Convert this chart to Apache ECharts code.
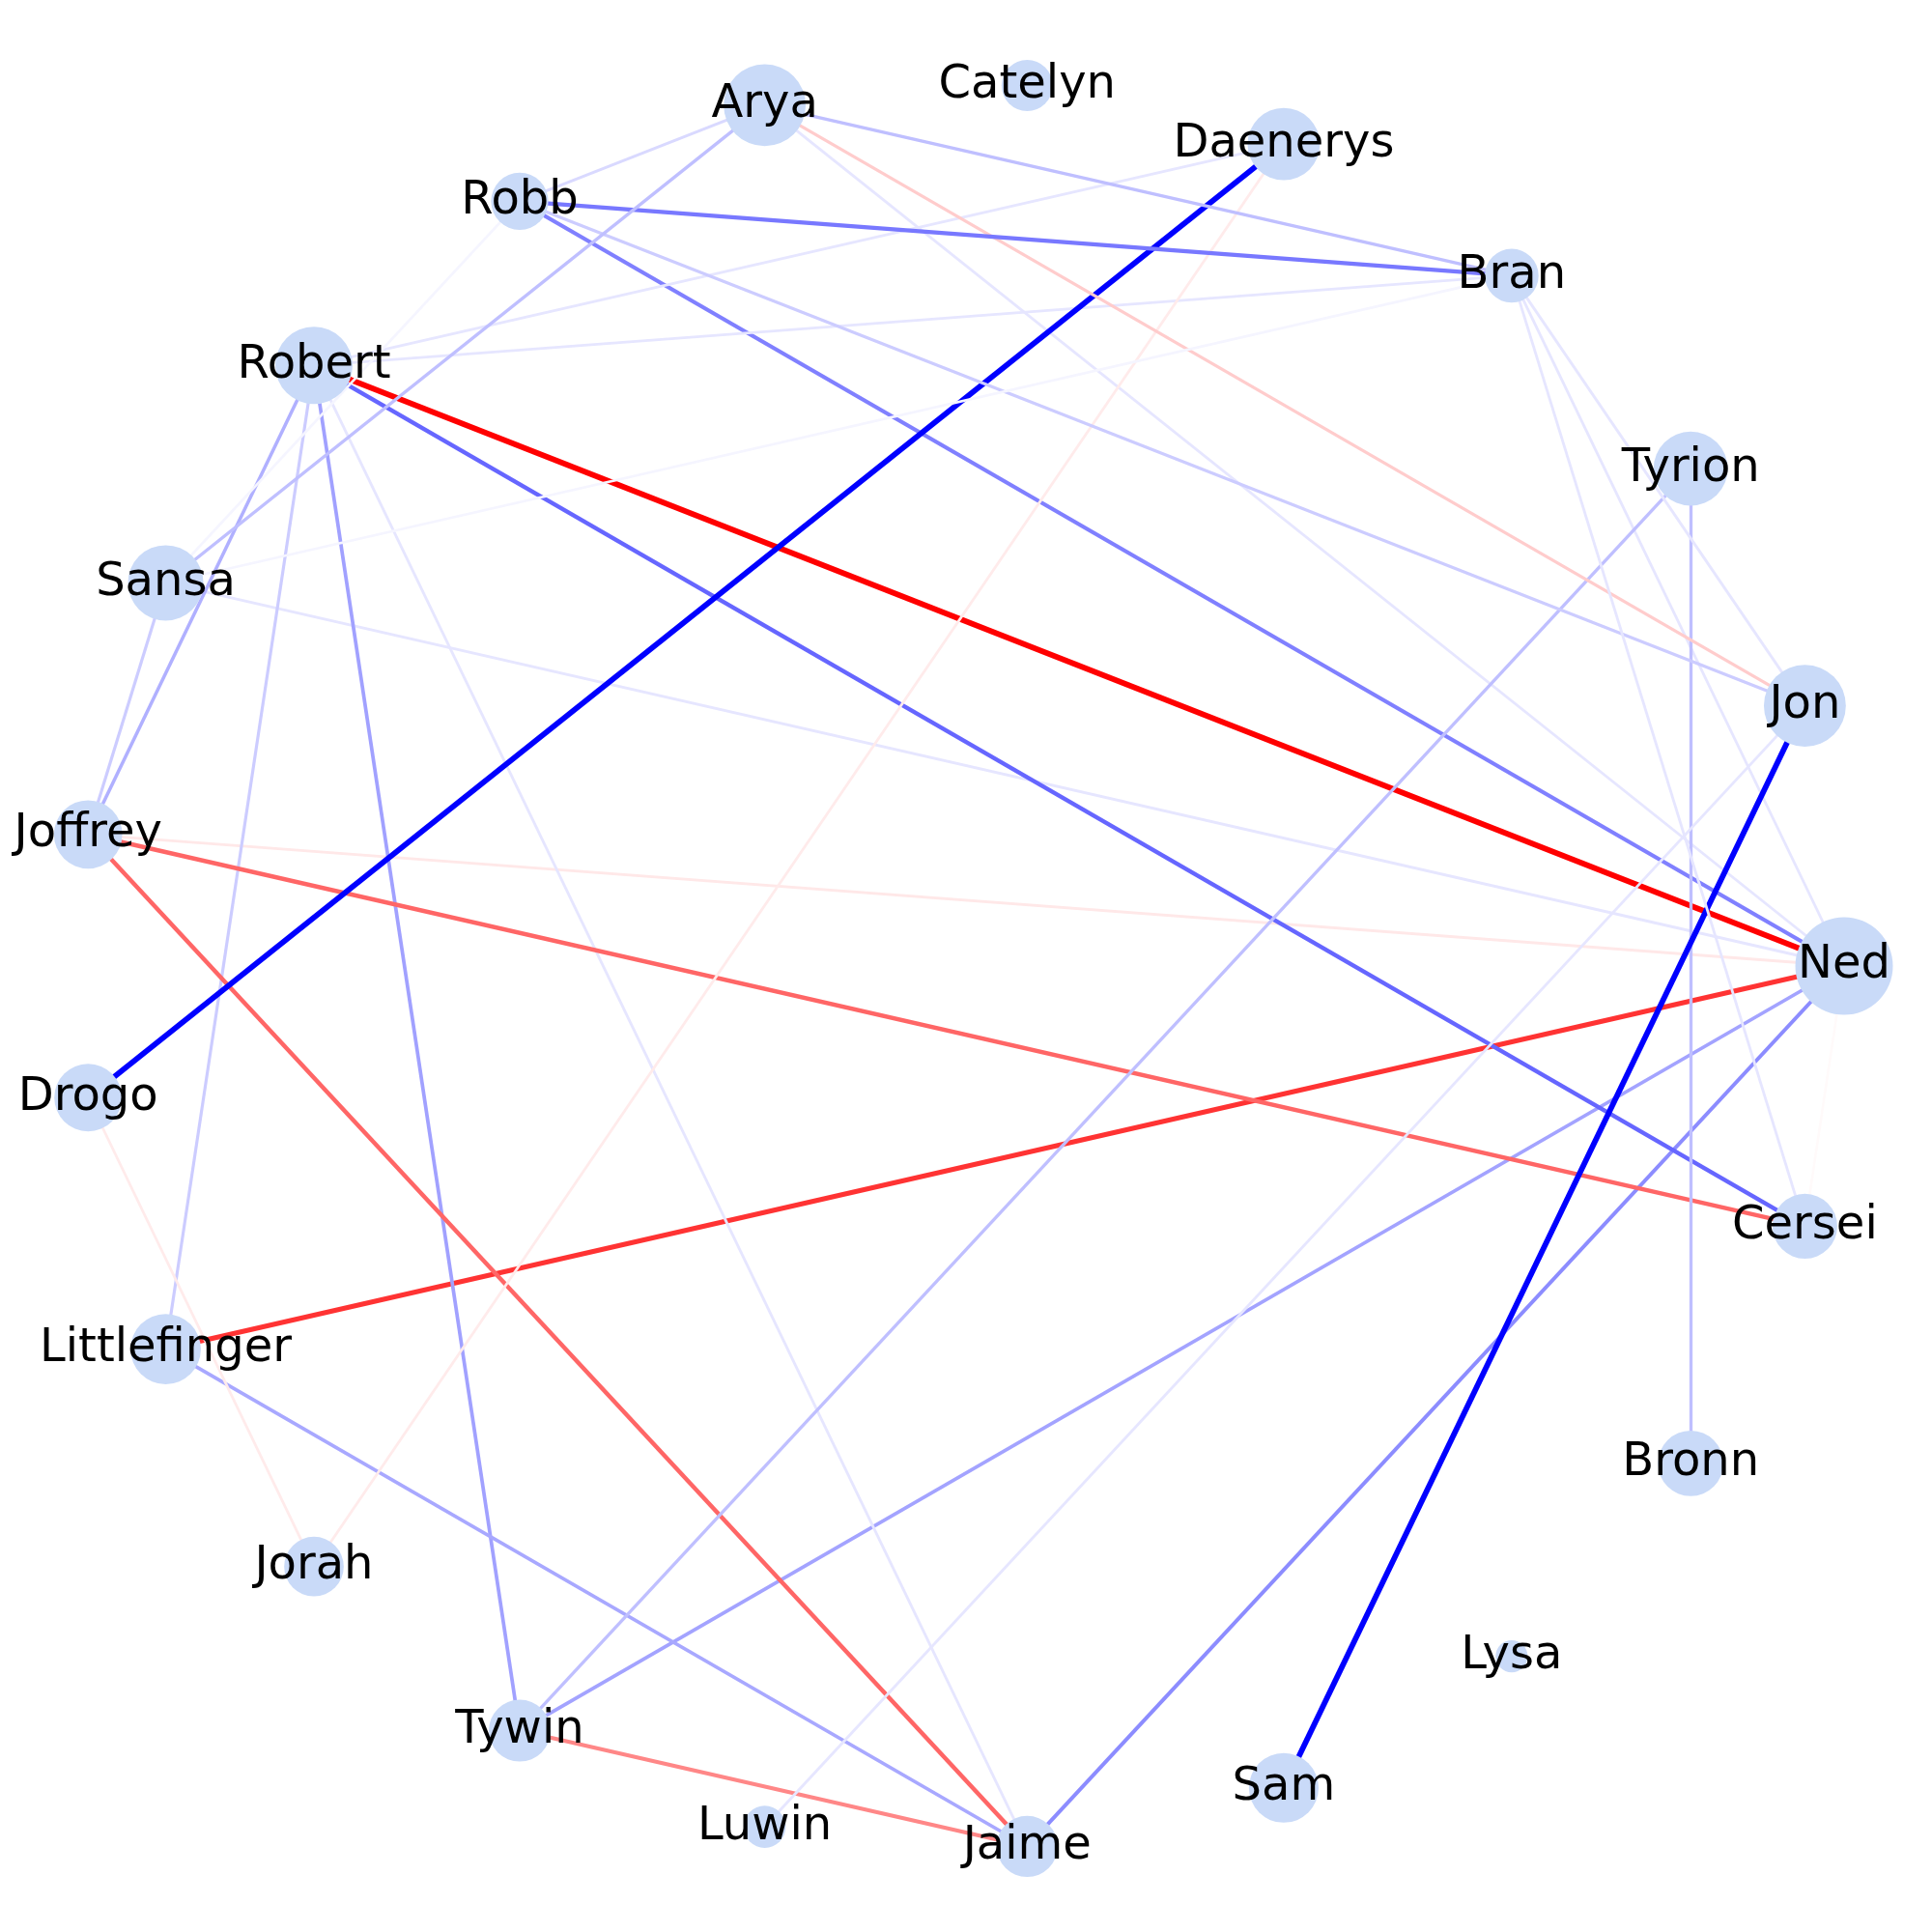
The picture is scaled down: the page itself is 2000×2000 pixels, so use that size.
<!DOCTYPE html>
<html>
<head>
<meta charset="utf-8">
<script src="https://cdn.jsdelivr.net/npm/echarts@6/dist/echarts.min.js"></script>
<style>html,body{margin:0;padding:0;background:#fff}#c{width:2000px;height:2000px}</style>
</head>
<body>
<div id="c"></div>
<script>
// Characters in circular order (counter-clockwise starting at 3 o'clock)
const characters = ['Ned','Jon','Tyrion','Bran','Daenerys','Catelyn','Arya','Robb','Robert','Sansa',
  'Joffrey','Drogo','Littlefinger','Jorah','Tywin','Luwin','Jaime','Sam','Lysa','Bronn','Cersei'];
// Node importance (drives node area)
const importance = [102,72,59,31,56,28,72,35,64,61,50,49,53,38,41,19,40,52,11,46,45];
// Relationships: source, target, sentiment (-1 = blue, +1 = red)
const edgeSource = ['Robert','Littlefinger','Joffrey','Robb','Arya','Sansa','Bran','Tywin','Jaime','Cersei',
  'Robert','Robert','Robert','Robert','Robert','Robert','Robert','Joffrey','Joffrey','Sansa',
  'Tywin','Littlefinger','Tyrion','Tyrion','Drogo','Daenerys','Drogo','Jon','Jon','Arya',
  'Robb','Bran','Robb','Arya','Arya','Arya','Sansa','Robb','Bran'];
const edgeTarget = ['Ned','Ned','Ned','Ned','Ned','Ned','Ned','Ned','Ned','Ned',
  'Cersei','Tywin','Joffrey','Littlefinger','Daenerys','Bran','Jaime','Cersei','Jaime','Joffrey',
  'Jaime','Jaime','Tywin','Bronn','Daenerys','Jorah','Jorah','Sam','Luwin','Jon',
  'Jon','Jon','Bran','Bran','Robb','Sansa','Bran','Sansa','Cersei'];
const edgeSentiment = [1.0,0.8,0.09,-0.5,-0.1,-0.1,-0.1,-0.36,-0.45,0.02,
  -0.6,-0.37,-0.31,-0.2,-0.1,-0.1,-0.1,0.6,0.6,-0.2,
  0.47,-0.34,-0.25,-0.25,-1.0,0.08,0.08,-1.0,-0.1,0.2,
  -0.2,-0.1,-0.53,-0.25,-0.15,-0.25,-0.04,-0.04,-0.1];

function bwr(s){
  const c = v => Math.round(Math.max(0, Math.min(1, v)) * 255);
  if (s < 0) { const k = c(1 + s); return `rgb(${k},${k},255)`; }
  const k = c(1 - s); return `rgb(255,${k},${k})`;
}

const chart = echarts.init(document.getElementById('c'), null, {renderer:'canvas'});
const hiddenAxis = {axisLine:{show:false},axisTick:{show:false},axisLabel:{show:false},splitLine:{show:false},splitArea:{show:false}};
chart.setOption({
  backgroundColor:'#ffffff',
  animation:false,
  polar:{center:[995,1000], radius:[0,914]},
  radiusAxis:Object.assign({type:'value', min:0, max:1}, hiddenAxis),
  angleAxis:Object.assign({type:'value', min:0, max:characters.length, startAngle:0, clockwise:false}, hiddenAxis),
  series:[{
    type:'graph',
    coordinateSystem:'polar',
    polarIndex:0,
    symbol:'circle',
    data: characters.map((n,i)=>({name:n, value:[1,i], symbolSize:10*Math.sqrt(importance[i])})),
    links: edgeSource.map((s,i)=>({source:s, target:edgeTarget[i],
      lineStyle:{color:bwr(edgeSentiment[i]), width:2.5+3.3*Math.abs(edgeSentiment[i])}})),
    itemStyle:{color:'#c9daf8', borderWidth:0},
    lineStyle:{opacity:1, curveness:0},
    label:{show:true, position:'inside', fontSize:48, fontFamily:'DejaVu Sans', color:'#000000'},
    emphasis:{disabled:true},
    silent:true
  }]
});
</script>
</body>
</html>
